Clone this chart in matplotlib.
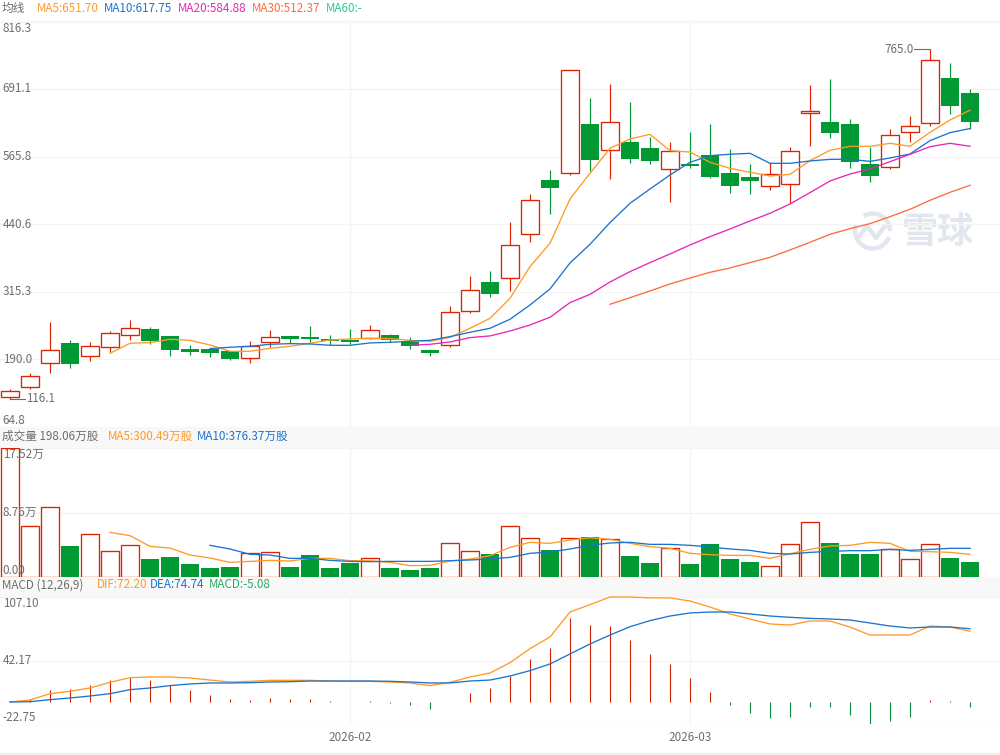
import matplotlib
matplotlib.use("Agg")
import matplotlib.pyplot as plt
from matplotlib.patches import Rectangle, Arc
from matplotlib.lines import Line2D

plt.rcParams['font.family'] = ['Noto Sans CJK SC', 'DejaVu Sans']

W, H = 1000, 755
RED, GREEN = '#dd2200', '#009933'
C_MA5, C_MA10, C_MA20, C_MA30, C_MA60 = '#ff9a26', '#1b74cf', '#e628b4', '#ff6a3d', '#32c98d'
GREY = '#6e6e6e'
GRID = '#f3f3f3'
FS = 8.4

# --- candles -----------------------------------------------------------
opens = [119.2,137.7,182.2,220.0,195.2,211.9,234.2,245.9,233.0,208.8,208.8,204.5,191.5,222.4,233.0,231.1,227.4,
         226.1,229.9,234.8,222.4,207.0,215.6,278.7,333.1,339.9,421.5,522.3,534.7,626.2,577.3,592.8,581.7,542.1,
         552.0,568.7,535.3,527.9,510.6,514.3,647.2,629.9,626.2,552.0,545.8,610.7,627.4,711.5,683.7]
closes = [130.3,158.1,207.6,181.6,215.0,239.1,248.4,223.7,207.6,203.3,202.0,190.9,215.0,231.7,227.4,227.4,223.7,
          221.8,243.5,226.1,215.0,202.0,276.8,317.6,311.5,401.1,484.6,508.1,725.7,560.0,629.3,561.9,558.2,575.5,
          548.9,528.5,511.8,521.1,532.8,575.5,649.7,610.1,556.3,530.4,605.2,621.9,744.3,660.2,630.5]
highs = [134.0,163.7,258.3,224.9,221.2,241.6,262.0,249.0,233.0,215.6,208.8,204.5,223.0,243.5,233.0,250.9,234.2,
         245.3,252.7,236.7,230.5,208.2,288.0,343.6,352.9,443.8,495.7,540.2,725.7,673.8,699.8,666.4,601.5,592.2,
         610.7,625.6,579.2,551.4,553.2,582.9,697.9,709.0,634.8,583.5,616.3,640.4,765.0,738.7,690.5]
lows = [116.1,135.3,163.7,174.2,187.2,202.6,225.5,218.7,196.5,198.3,194.6,189.0,183.5,213.2,219.4,221.8,215.6,
        218.1,228.0,221.2,209.5,196.5,213.2,276.2,305.9,317.0,407.9,459.9,531.6,538.4,524.8,554.5,552.6,482.1,
        543.9,526.6,498.8,497.0,503.8,480.3,586.0,600.8,545.2,519.2,543.3,593.4,623.1,645.4,617.5]

ma5 = [200.8,219.4,220.6,226.8,224.9,216.2,204.5,204.5,210.1,213.8,219.4,225.5,227.4,228.6,228.0,224.9,223.0,
       230.5,247.2,265.7,302.8,361.6,404.9,487.1,534.7,581.1,598.4,607.0,576.7,574.2,555.1,543.9,536.6,529.7,
       532.8,558.2,577.3,584.8,584.8,590.3,584.8,610.7,633.6,651.7]
ma10 = [209.5,212.0,213.8,217.5,218.7,218.1,215.6,215.6,220.0,221.2,223.0,224.9,231.7,239.8,247.2,263.9,290.4,
        320.1,368.4,403.0,443.2,479.0,505.6,531.6,555.1,567.5,570.0,571.8,553.2,553.2,557.6,560.6,560.6,556.9,
        563.1,570.5,595.3,610.1,617.75]
ma20 = [215.6,217.5,221.8,229.9,233.0,242.2,253.3,267.6,294.8,310.2,333.1,352.3,369.0,385.1,401.7,417.2,431.4,
        446.3,460.5,477.8,498.8,520.5,533.4,542.7,556.3,569.9,584.1,590.3,584.88]
ma30 = [291.7,304.0,316.4,329.4,340.5,351.0,359.1,369.0,378.9,392.5,406.7,421.5,432.0,441.3,454.3,467.9,484.6,
        499.4,512.37]

# --- volume (unit: wan) ------------------------------------------------
volume = [17.52,6.87,9.46,4.19,5.78,3.46,4.28,2.41,2.68,1.73,1.18,1.32,3.23,3.32,1.32,2.96,1.18,1.87,2.50,1.18,
          0.91,1.18,4.55,3.46,3.09,6.87,5.23,3.64,5.23,5.41,5.10,2.82,1.87,3.87,1.73,4.46,2.41,2.00,1.41,4.41,
          7.42,4.60,3.09,3.09,3.73,2.37,4.41,2.55,2.00]
vol_ma5 = [6.05,5.60,4.14,3.91,2.96,2.55,1.96,2.09,2.23,2.14,2.50,2.50,2.18,2.18,1.96,1.50,1.55,2.14,2.41,2.87,
           4.00,4.69,4.55,5.00,5.32,5.10,4.55,4.10,3.87,3.19,3.00,2.91,2.91,2.50,3.14,3.73,4.19,4.28,4.69,4.55,
           3.46,3.41,3.32,3.05]
vol_ma10 = [4.28,3.78,3.05,2.96,2.50,2.50,2.23,2.09,2.05,2.09,2.09,2.09,2.18,2.28,2.41,2.64,3.19,3.37,3.78,4.28,
            4.60,4.69,4.41,4.41,4.28,4.05,3.78,3.59,3.19,3.09,3.32,3.46,3.55,3.55,3.73,3.59,3.73,3.87,3.87]

# --- MACD --------------------------------------------------------------
dif = [0,2.0,8.5,10.9,14.3,20.1,24.8,25.5,25.5,24.5,22.4,20.4,21.1,22.1,22.1,22.1,21.4,21.1,21.1,20.4,19.4,16.7,
       20.1,25.5,29.6,40.1,54.4,66.3,91.8,99.3,107.1,107.1,106.2,106.2,103.0,96.9,89.8,84.7,79.6,78.5,82.6,82.6,
       76.5,68.3,68.3,68.3,77.5,76.5,72.2]
dea = [0,0.3,2.4,4.1,6.1,8.5,12.6,14.3,16.7,18.4,19.4,19.4,19.7,20.4,20.7,21.4,21.4,21.4,21.4,21.1,20.4,19.4,19.4,
       21.4,22.4,26.5,32.0,38.8,49.0,59.2,68.3,76.8,83.0,87.7,90.8,91.8,91.8,89.8,87.7,86.4,85.3,84.7,83.6,80.6,
       77.5,75.5,76.5,76.5,74.74]
macd = [0,3.1,12.2,13.3,17.3,22.4,24.8,22.4,17.3,12.2,7.1,3.1,2.0,4.1,3.1,3.4,1.4,0,1.4,-1.4,-3.4,-7.5,0,9.2,14.3,
        26.5,43.9,55.1,85.7,78.5,77.5,63.2,49.0,38.8,24.5,10.2,-3.4,-11.6,-16.7,-15.6,-5.4,-5.4,-13.6,-23.8,-19.7,
        -15.6,2.0,1.4,-5.08]

price_ticks = [816.3, 691.1, 565.8, 440.6, 315.3, 190.0, 64.8]
vol_ticks = [17.52, 8.76, 0.0]
vol_tick_labels = ['17.52万', '8.76万', '0.00']
macd_ticks = [107.10, 42.17, -22.75]
month_positions = [17, 34]
month_labels = ['2026-02', '2026-03']

n = len(closes)
xs = list(range(n))
is_up = [c >= o for o, c in zip(opens, closes)]

fig = plt.figure(figsize=(W / 100, H / 100), dpi=100, facecolor='white')


def panel(top, bottom):
    return fig.add_axes([0, 1 - bottom / H, 1, (bottom - top) / H])


def fig_text(x, y, s, color=GREY, size=FS, **kw):
    fig.text(x / W, 1 - y / H, s, color=color, fontsize=size, va='center', ha='left', **kw)


# background strips
for top, bottom, col in [(427, 448, '#f8f8f8'), (577, 597, '#f8f8f8'), (19.5, 21.5, '#fbfbfb'),
                         (724.5, 726, '#fafafa'), (752.5, 755, '#efefef')]:
    fig.add_artist(Rectangle((0, 1 - bottom / H), 1, (bottom - top) / H, transform=fig.transFigure,
                             facecolor=col, edgecolor='none', zorder=0))

ax = panel(21.5, 426.6)
av = panel(448.3, 576.7)
am = panel(597, 724.3)
av_labels = panel(448.3, 576.7)   # carries the volume tick labels above the bars
av_labels.set_zorder(5)

for a in (ax, av, am, av_labels):
    a.set_xlim(-0.5, 49.5)
    a.patch.set_alpha(0)
    for s in a.spines.values():
        s.set_visible(False)
    a.set_xticks(month_positions)
    a.tick_params(axis='both', length=0)
    a.tick_params(axis='y', pad=-2, labelsize=FS, labelcolor=GREY)
    a.tick_params(axis='x', labelbottom=False)
for a in (ax, av, am):
    a.grid(True, color=GRID, lw=0.9)
    a.set_axisbelow(True)


def style_y(a, ticks, labels):
    a.set_yticks(ticks)
    a.set_yticklabels(labels)
    lab = a.get_yticklabels()
    for t in lab:
        t.set_ha('left')
        t.set_va('center')
    lab[0].set_va('top')
    lab[-1].set_va('bottom')


# --- price panel
ax.set_ylim(price_ticks[-1], price_ticks[0])
style_y(ax, price_ticks, [f'{t:.1f}' for t in price_ticks])
for i in xs:
    col = RED if is_up[i] else GREEN
    ax.vlines(i - 0.025, lows[i], highs[i], color=col, lw=0.85, zorder=2)
    lo, hi = min(opens[i], closes[i]), max(opens[i], closes[i])
    if is_up[i]:
        ax.bar(i, hi - lo, 0.86, lo, facecolor='white', edgecolor=col, lw=0.95, zorder=3)
    else:
        ax.bar(i, hi - lo, 0.9, lo, facecolor=col, edgecolor='none', zorder=3)

ax.plot(xs[5:], ma5, color=C_MA5, lw=0.95, zorder=4)
ax.plot(xs[10:], ma10, color=C_MA10, lw=0.95, zorder=4)
ax.plot(xs[20:], ma20, color=C_MA20, lw=0.95, zorder=4)
ax.plot(xs[30:], ma30, color=C_MA30, lw=0.95, zorder=4)

# highest / lowest markers
imax = highs.index(max(highs))
imin = lows.index(min(lows))
ax.plot([imax - 0.8, imax - 0.025], [highs[imax], highs[imax]], color=GREY, lw=0.8, zorder=2)
ax.annotate(f'{highs[imax]:.1f}', (imax - 0.8, highs[imax]), xytext=(0, 0), textcoords='offset points',
            ha='right', va='center', color=GREY, fontsize=FS)
ax.plot([imin - 0.025, imin + 0.75], [lows[imin], lows[imin]], color=GREY, lw=0.8, zorder=2)
ax.annotate(f'{lows[imin]:.1f}', (imin + 0.75, lows[imin]), xytext=(0.5, 0), textcoords='offset points',
            ha='left', va='center', color=GREY, fontsize=FS)

# --- volume panel
av.set_ylim(0, vol_ticks[0])
av.set_yticks(vol_ticks)
av.set_yticklabels([])
av_labels.set_ylim(0, vol_ticks[0])
style_y(av_labels, vol_ticks, vol_tick_labels)
for i in xs:
    if is_up[i]:
        av.bar(i, volume[i], 0.86, facecolor='white', edgecolor=RED, lw=0.95, zorder=2)
    else:
        av.bar(i, volume[i], 0.9, facecolor=GREEN, edgecolor='none', zorder=2)
av.plot(xs[5:], vol_ma5, color=C_MA5, lw=0.95, zorder=4)
av.plot(xs[10:], vol_ma10, color=C_MA10, lw=0.95, zorder=4)

# --- MACD panel
am.set_ylim(macd_ticks[-1], macd_ticks[0])
style_y(am, macd_ticks, [f'{t:.2f}' for t in macd_ticks])
for i in xs:
    if macd[i] != 0:
        am.vlines(i - 0.025, 0, macd[i], color='#cc2200' if macd[i] > 0 else '#0a8f3a', lw=0.8, zorder=2)
am.plot(xs, dif, color=C_MA5, lw=0.95, zorder=4, clip_on=False)
am.plot(xs, dea, color=C_MA10, lw=0.95, zorder=4)
am.tick_params(axis='x', labelbottom=True, pad=5, labelsize=FS, labelcolor=GREY)
am.set_xticklabels(month_labels)

# --- header rows
fig_text(2, 8, '均线')
fig_text(37, 8, 'MA5:651.70', C_MA5)
fig_text(104, 8, 'MA10:617.75', C_MA10)
fig_text(178, 8, 'MA20:584.88', C_MA20)
fig_text(252, 8, 'MA30:512.37', C_MA30)
fig_text(326, 8, 'MA60:-', C_MA60)
fig_text(2, 436, '成交量 198.06万股')
fig_text(108, 436, 'MA5:300.49万股', C_MA5)
fig_text(197, 436, 'MA10:376.37万股', C_MA10)
fig_text(2, 585, 'MACD (12,26,9)')
fig_text(97, 585, 'DIF:72.20', C_MA5)
fig_text(150, 585, 'DEA:74.74', C_MA10)
fig_text(209, 585, 'MACD:-5.08', '#27ae60')

# --- watermark
WM = '#e1e6ef'
wm = fig.add_axes([0, 0, 1, 1], zorder=-1)
wm.set_xlim(0, W)
wm.set_ylim(H, 0)
wm.axis('off')
wm.add_patch(Arc((872.5, 231), 35, 35, theta1=20, theta2=200, color=WM, lw=3.2))
wm.add_patch(Arc((872.5, 231), 35, 35, theta1=240, theta2=360, color=WM, lw=3.2))
wm.add_line(Line2D([858, 867, 876, 885], [238, 226, 238, 226], color=WM, lw=3.2, solid_capstyle='round',
                   solid_joinstyle='round'))
wm.text(937.5, 232.5, '雪球', color=WM, fontsize=26, fontweight='bold', ha='center', va='center')

fig.savefig('out.png', dpi=100, facecolor='white')
